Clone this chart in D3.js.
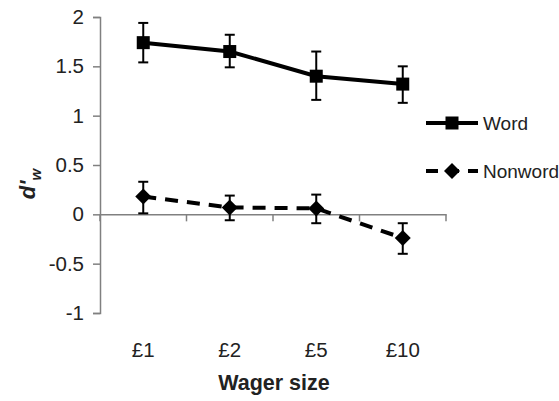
<!DOCTYPE html>
<html><head><meta charset="utf-8">
<script src="https://cdn.jsdelivr.net/npm/d3@7/dist/d3.min.js"></script>
<style>body{margin:0;background:#fff}</style></head>
<body><svg id="c" width="559" height="401"></svg>
<script>
const categories = ["£1","£2","£5","£10"];
const wordMean = [1.74, 1.65, 1.40, 1.32];
const wordHi   = [1.94, 1.82, 1.65, 1.50];
const wordLo   = [1.54, 1.49, 1.16, 1.13];
const nonMean  = [0.18, 0.07, 0.06, -0.24];
const nonHi    = [0.33, 0.19, 0.20, -0.09];
const nonLo    = [0.01, -0.06, -0.09, -0.40];
const yTicks = [2, 1.5, 1, 0.5, 0, -0.5, -1];

const svg = d3.select("#c");
const font = "Liberation Sans, Arial, sans-serif";
const x = d3.scaleBand().domain(categories).range([100, 446]);
const y = d3.scaleLinear().domain([-1, 2]).range([313, 17]);
const gray = "#808080";

// y axis
const ya = svg.append("g").attr("transform","translate(100,0)")
  .call(d3.axisLeft(y).tickValues(yTicks).tickSize(7).tickPadding(9).tickFormat(d => String(d)));
ya.select(".domain").attr("stroke", gray).attr("stroke-width",1.5);
ya.selectAll(".tick line").attr("stroke", gray).attr("stroke-width",1.5);
ya.selectAll("text").attr("font-family", font).attr("font-size", 20.5).attr("fill","#222");

// x axis at y=0
const xa = svg.append("g").attr("transform",`translate(0,${y(0)})`)
  .call(d3.axisBottom(x).tickSize(0).tickFormat(""));
xa.select(".domain").attr("stroke", gray).attr("stroke-width",1.5);
xa.selectAll(".tick").remove();
const bounds = [0,1,2,3,4].map(i => 100 + i * x.step());
svg.selectAll(".xt").data(bounds).enter().append("line")
  .attr("x1", d=>d).attr("x2", d=>d).attr("y1", y(0)).attr("y2", y(0)+7)
  .attr("stroke", gray).attr("stroke-width",1.5);
svg.selectAll(".xl").data(categories).enter().append("text")
  .attr("x", d=>x(d)+x.bandwidth()/2).attr("y", 357)
  .attr("text-anchor","middle").attr("font-family", font).attr("font-size",20.5).attr("fill","#222")
  .text(d=>d);

// titles
svg.append("text").attr("x", 274).attr("y", 390).attr("text-anchor","middle")
  .attr("font-family", font).attr("font-size",21.5).attr("font-weight","bold").attr("fill","#222")
  .text("Wager size");
const yt = svg.append("text").attr("transform","translate(35,184) rotate(-90)").attr("text-anchor","middle")
  .attr("font-family", font).attr("font-size",22).attr("font-weight","bold").attr("font-style","italic").attr("fill","#222");
yt.append("tspan").text("d'");
yt.append("tspan").attr("font-size",15).attr("dy",6).text("w");

const cx = d => x(d) + x.bandwidth()/2;

function series(mean, hi, lo, dash, marker) {
  const g = svg.append("g");
  categories.forEach((c,i) => {
    g.append("line").attr("x1",cx(c)).attr("x2",cx(c)).attr("y1",y(hi[i])).attr("y2",y(lo[i]))
      .attr("stroke","#000").attr("stroke-width",2);
    [hi[i], lo[i]].forEach(v => g.append("line").attr("x1",cx(c)-5).attr("x2",cx(c)+5)
      .attr("y1",y(v)).attr("y2",y(v)).attr("stroke","#000").attr("stroke-width",2));
  });
  const line = d3.line().x((d,i)=>cx(categories[i])).y(d=>y(d));
  g.append("path").datum(mean).attr("d", line).attr("fill","none").attr("stroke","#000")
    .attr("stroke-width",4).attr("stroke-dasharray", dash);
  categories.forEach((c,i) => marker(g, cx(c), y(mean[i])));
}
const sq = (g,px,py) => g.append("rect").attr("x",px-6.5).attr("y",py-6.5).attr("width",13).attr("height",13).attr("fill","#000");
const dia = (g,px,py) => g.append("path").attr("d",`M${px},${py-8}L${px+8},${py}L${px},${py+8}L${px-8},${py}Z`).attr("fill","#000");

series(wordMean, wordHi, wordLo, null, sq);
series(nonMean, nonHi, nonLo, "13,9", dia);

// legend
const lg = svg.append("g");
lg.append("line").attr("x1",426).attr("x2",478).attr("y1",123).attr("y2",123).attr("stroke","#000").attr("stroke-width",4);
sq(lg,452,123);
lg.append("text").attr("x",483).attr("y",130).attr("font-family",font).attr("font-size",19).attr("fill","#222").text("Word");
lg.append("line").attr("x1",426).attr("x2",478).attr("y1",171).attr("y2",171).attr("stroke","#000").attr("stroke-width",4).attr("stroke-dasharray","12,9");
dia(lg,452,171);
lg.append("text").attr("x",483).attr("y",178).attr("font-family",font).attr("font-size",19).attr("fill","#222").text("Nonword");
</script></body></html>
